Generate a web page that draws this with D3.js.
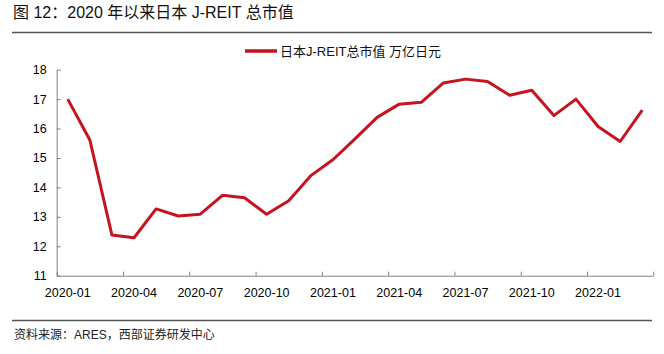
<!DOCTYPE html>
<html>
<head>
<meta charset="utf-8">
<script src="https://cdn.jsdelivr.net/npm/d3@7"></script>
<style>
  body { margin: 0; background: #fff; }
  text { font-family: "Liberation Sans", Arial, "Noto Sans CJK SC", sans-serif; }
</style>
</head>
<body>
<div id="container"></div>
<script>
/* data */
const months = ["2020-01","2020-02","2020-03","2020-04","2020-05","2020-06","2020-07","2020-08","2020-09",
                "2020-10","2020-11","2020-12","2021-01","2021-02","2021-03","2021-04","2021-05","2021-06",
                "2021-07","2021-08","2021-09","2021-10","2021-11","2021-12","2022-01","2022-02","2022-03"];
const marketCap = [17.0, 15.61, 12.38, 12.29, 13.27, 13.03, 13.09, 13.73, 13.65,
                   13.09, 13.55, 14.40, 14.94, 15.65, 16.38, 16.83, 16.89, 17.55,
                   17.68, 17.60, 17.13, 17.30, 16.44, 17.0, 16.07, 15.56, 16.63];
const xLabels = ["2020-01","2020-04","2020-07","2020-10","2021-01","2021-04","2021-07","2021-10","2022-01"];
const yTicks = [11, 12, 13, 14, 15, 16, 17, 18];
const titleText = "图 12：2020 年以来日本 J-REIT 总市值";
const legendText = "日本J-REIT总市值 万亿日元";
const sourceText = "资料来源：ARES，西部证券研发中心";

const width = 664, height = 354;
const plot = {left: 56.7, right: 653.3, top: 69.7, bottom: 275.7};
const red = "#c4141f", axisGray = "#808080";

const svg = d3.select("#container").append("svg")
  .attr("width", width).attr("height", height);

// header and footer
svg.append("text").attr("x", 13).attr("y", 18)
   .attr("font-size", "16px").attr("fill", "#111").text(titleText);
svg.append("line").attr("x1", 12).attr("x2", 652).attr("y1", 32.5).attr("y2", 32.5)
   .attr("stroke", "#555").attr("stroke-width", 1.3);
svg.append("line").attr("x1", 12).attr("x2", 652).attr("y1", 320.5).attr("y2", 320.5)
   .attr("stroke", "#555").attr("stroke-width", 1.3);
svg.append("text").attr("x", 14).attr("y", 339)
   .attr("font-size", "12px").attr("fill", "#222").text(sourceText);

// scales
const x = d3.scaleBand().domain(months).range([plot.left, plot.right]).padding(0);
const xIdx = d3.scaleLinear().domain([0, months.length]).range([plot.left, plot.right]);
const y = d3.scaleLinear().domain([11, 18]).range([plot.bottom, plot.top]);

// x axis: inward ticks at quarter boundaries, labels at month centres
const xTickAxis = d3.axisBottom(xIdx)
  .tickValues(d3.range(0, months.length + 1, 3))
  .tickSizeInner(-4).tickSizeOuter(0).tickFormat("");
const gx = svg.append("g").attr("transform", `translate(0,${plot.bottom})`).call(xTickAxis);
gx.selectAll("path, line").attr("stroke", axisGray);

const xLabelAxis = d3.axisBottom(x).tickValues(xLabels).tickSize(0).tickPadding(12);
const gxl = svg.append("g").attr("transform", `translate(0,${plot.bottom})`).call(xLabelAxis);
gxl.select(".domain").remove();
gxl.selectAll("text").attr("font-size", "12.5px").attr("fill", "#000")
   .attr("font-family", "Liberation Sans, Arial, sans-serif");

// y axis
const yAxis = d3.axisLeft(y).tickValues(yTicks).tickFormat(d3.format("d"))
  .tickSizeInner(-4).tickSizeOuter(0).tickPadding(10);
const gy = svg.append("g").attr("transform", `translate(${plot.left},0)`).call(yAxis);
gy.selectAll("path, line").attr("stroke", axisGray);
gy.selectAll("text").attr("font-size", "12.5px").attr("fill", "#000")
  .attr("font-family", "Liberation Sans, Arial, sans-serif");

// line
const line = d3.line()
  .x((d, i) => x(months[i]) + x.bandwidth() / 2)
  .y(d => y(d));
svg.append("path").datum(marketCap)
   .attr("d", line).attr("fill", "none")
   .attr("stroke", red).attr("stroke-width", 3).attr("stroke-linejoin", "round");

// legend
svg.append("line").attr("x1", 245).attr("x2", 277).attr("y1", 51).attr("y2", 51)
   .attr("stroke", red).attr("stroke-width", 3.5);
svg.append("text").attr("x", 280).attr("y", 55.5)
   .attr("font-size", "13px").attr("fill", "#111").text(legendText);
</script>
</body>
</html>
